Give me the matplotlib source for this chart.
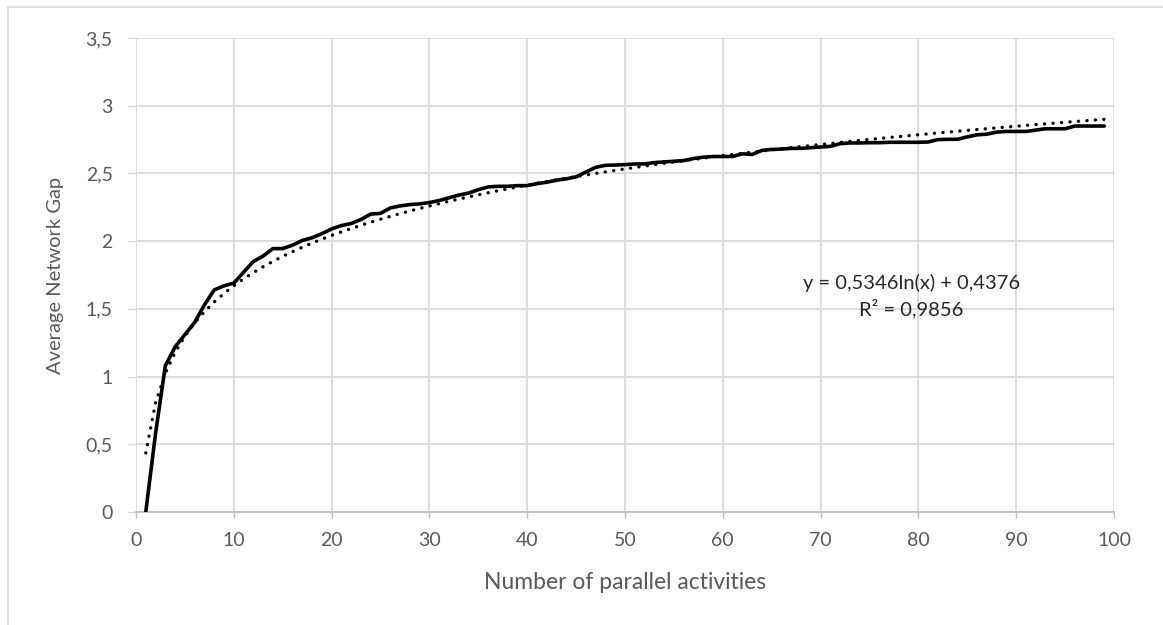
import matplotlib
matplotlib.use("Agg")
import matplotlib.pyplot as plt
from matplotlib.ticker import FuncFormatter, MultipleLocator
from matplotlib.patches import Rectangle
import numpy as np

plt.rcParams['font.family'] = ['Lato', 'DejaVu Sans']

# Number of parallel activities (x) and average network gap (y)
activities = list(range(1, 100))
network_gap = [
    0.00, 0.58, 1.08, 1.22, 1.31, 1.40, 1.53, 1.64, 1.67, 1.69,   # 1-10
    1.77, 1.85, 1.89, 1.945, 1.945, 1.97, 2.005, 2.025, 2.055, 2.09,  # 11-20
    2.115, 2.13, 2.16, 2.20, 2.205, 2.245, 2.26, 2.27, 2.275, 2.285,  # 21-30
    2.30, 2.32, 2.34, 2.355, 2.38, 2.40, 2.405, 2.405, 2.41, 2.41,   # 31-40
    2.425, 2.435, 2.45, 2.46, 2.475, 2.51, 2.545, 2.56, 2.562, 2.565,  # 41-50
    2.57, 2.57, 2.58, 2.585, 2.59, 2.595, 2.61, 2.62, 2.625, 2.625,  # 51-60
    2.625, 2.645, 2.64, 2.67, 2.677, 2.68, 2.685, 2.685, 2.69, 2.695,  # 61-70
    2.70, 2.72, 2.725, 2.725, 2.727, 2.727, 2.73, 2.73, 2.73, 2.73,  # 71-80
    2.732, 2.75, 2.752, 2.752, 2.77, 2.785, 2.79, 2.805, 2.81, 2.81,  # 81-90
    2.81, 2.82, 2.83, 2.83, 2.83, 2.85, 2.85, 2.85, 2.85,            # 91-99
]

equation_text = "y = 0,5346ln(x) + 0,4376"
r2_text = "R² = 0,9856"

x = np.array(activities, dtype=float)
y = np.array(network_gap)

# logarithmic trendline, fitted the way Excel does it
slope, intercept = np.polyfit(np.log(x), y, 1)
trend = slope * np.log(x) + intercept

fig = plt.figure(figsize=(11.63, 6.25), dpi=100)
ax = fig.add_axes([136 / 1163, 113 / 625, 978 / 1163, 474 / 625])

grid_col = '#D9D9D9'
text_col = '#595959'

ax.plot(x, y, color='black', linewidth=2.6, solid_capstyle='round',
        solid_joinstyle='round', zorder=3)
ax.plot(x, trend, color='black', linewidth=2.4, linestyle=(0, (0.05, 2.5)),
        dash_capstyle='round', zorder=4)

ax.set_xlim(0, 100)
ax.set_ylim(0, 3.5)
ax.xaxis.set_major_locator(MultipleLocator(10))
ax.yaxis.set_major_locator(MultipleLocator(0.5))

fmt = FuncFormatter(lambda v, p: ('%g' % v).replace('.', ','))
ax.xaxis.set_major_formatter(fmt)
ax.yaxis.set_major_formatter(fmt)

ax.grid(True, color=grid_col, linewidth=1.3)
ax.set_axisbelow(True)
for side in ['top', 'right', 'left']:
    ax.spines[side].set_visible(False)
ax.spines['bottom'].set_color('#BFBFBF')
ax.spines['bottom'].set_linewidth(1.3)

ax.tick_params(axis='x', colors=text_col, labelsize=14, length=4.5,
               width=1, color='#BFBFBF', pad=10)
ax.tick_params(axis='y', colors=text_col, labelsize=14, length=5.8,
               width=1, color='#D9D9D9', pad=11)

ax.set_xlabel('Number of parallel activities', color=text_col, fontsize=16.5)
ax.set_ylabel('Average Network Gap', color=text_col, fontsize=14.5)
ax.xaxis.set_label_coords(0.5, -0.1266)
ax.yaxis.set_label_coords(-0.0828, 0.5)
ax.yaxis.label.set_verticalalignment('center')

ax.text(79.3, 1.69, equation_text, ha='center', va='center', fontsize=14.5, color='#262626')
ax.text(79.3, 1.505, r2_text, ha='center', va='center', fontsize=14.5, color='#262626')

# light chart-area border
fig.patches.append(Rectangle((8 / 1163, -0.01), 1.02, 618 / 625 + 0.01,
                             transform=fig.transFigure, fill=False,
                             edgecolor='#D9D9D9', linewidth=1.2))

fig.savefig('out.png', dpi=100)
